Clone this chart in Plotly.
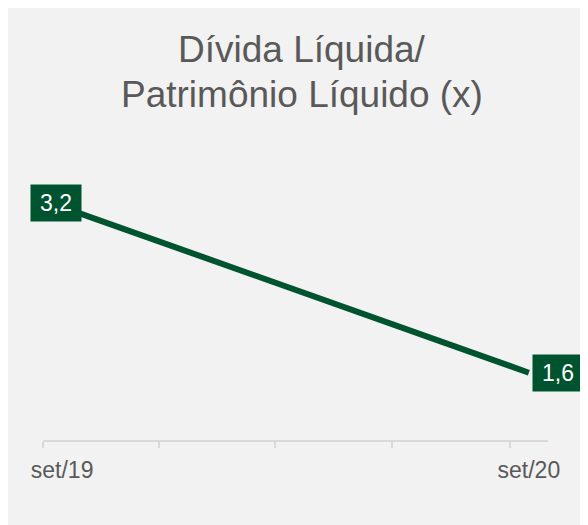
import plotly.graph_objects as go
import pandas as pd

# ---- data ----
periods = ["2019-09", "2020-09"]
tick_labels = ["set/19", "set/20"]
values = [3.2, 1.6]
value_labels = ["3,2", "1,6"]
title_lines = ["Dívida Líquida/", "Patrimônio Líquido (x)"]

x_dates = [pd.Timestamp(p + "-16") for p in periods]

GREEN = "#00532F"
GREY_TXT = "#595959"
AXIS = "#d9d9d9"
BG = "#f2f2f2"
FONT = "Liberation Sans, Arial, sans-serif"

W, H = 588, 525
L, R, T, B = 35, 48, 168, 93
pw, ph = W - L - R, H - T - B


def px_x(p):
    return (p - L) / pw


def px_y(p):
    return ((H - B) - p) / ph


fig = go.Figure()
fig.add_trace(go.Scatter(
    x=x_dates, y=values, mode="lines",
    line=dict(color=GREEN, width=6),
    hoverinfo="skip", showlegend=False,
))

# data labels
label_shift = [(-6, 4), (29, 0)]
for xd, v, lab, (dx, dy) in zip(x_dates, values, value_labels, label_shift):
    fig.add_annotation(
        x=xd, y=v, xref="x", yref="y", text=lab, showarrow=False,
        font=dict(family=FONT, size=23, color="white"),
        bgcolor=GREEN, borderpad=3, width=44, height=30,
        xanchor="center", yanchor="middle", xshift=dx, yshift=dy,
    )

# title (two lines)
for line, ymid in zip(title_lines, [41, 86]):
    fig.add_annotation(
        x=px_x(294), y=px_y(ymid), xref="paper", yref="paper",
        text=line, showarrow=False, xanchor="center", yanchor="middle",
        font=dict(family=FONT, size=37, color=GREY_TXT),
    )

fig.update_layout(
    width=W, height=H,
    margin=dict(l=L, r=R, t=T, b=B),
    paper_bgcolor=BG, plot_bgcolor=BG,
    xaxis=dict(
        type="date",
        range=["2019-09-01", "2020-10-01"],
        tickmode="array", tickvals=x_dates, ticktext=tick_labels,
        ticks="", showgrid=False, zeroline=False,
        showline=True, linecolor=AXIS, linewidth=1.5,
        tickfont=dict(family=FONT, size=23, color=GREY_TXT),
        ticklabelstandoff=9,
        minor=dict(
            tickmode="array",
            tickvals=["2019-09-01", "2019-12-01", "2020-03-01", "2020-06-01", "2020-09-01"],
            ticks="outside", ticklen=6, tickcolor=AXIS, tickwidth=1.5, showgrid=False,
        ),
    ),
    yaxis=dict(range=[0.95, 3.5], visible=False, showgrid=False, zeroline=False),
    showlegend=False,
)

fig.write_html("out.html")
